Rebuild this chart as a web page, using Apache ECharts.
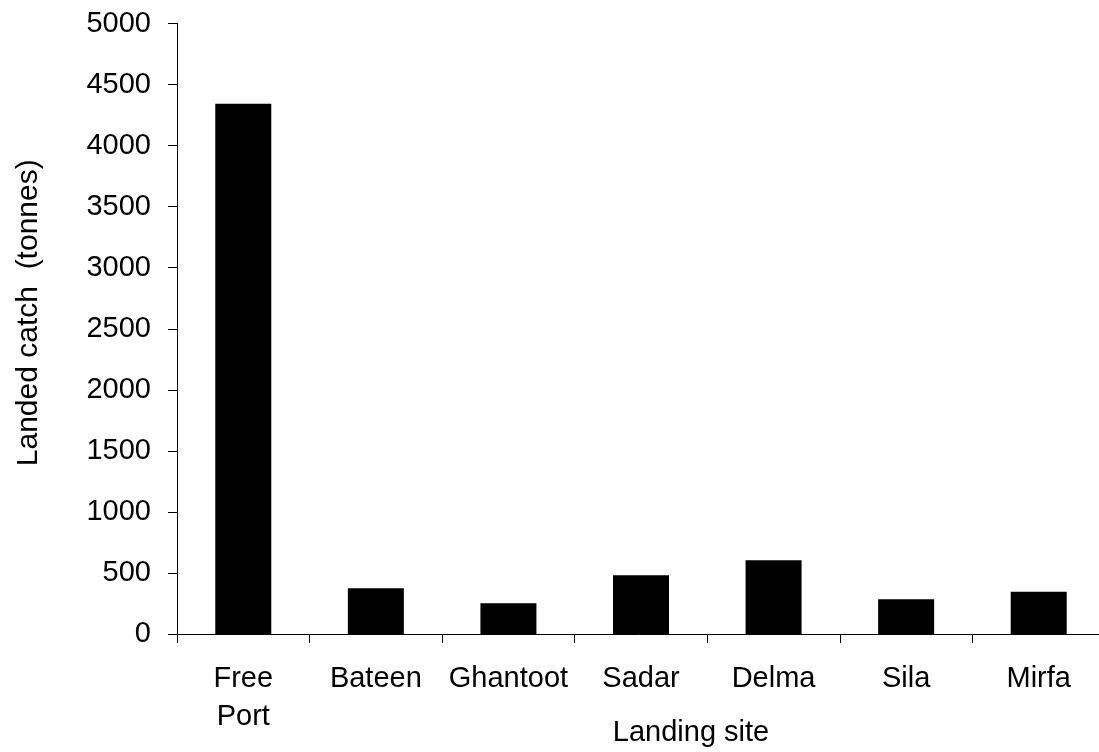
<!DOCTYPE html>
<html>
<head>
<meta charset="utf-8">
<script src="https://cdn.jsdelivr.net/npm/echarts@6/dist/echarts.min.js"></script>
<style>
html,body{margin:0;padding:0;background:#fff;}
#chart{width:1099px;height:752px;}
</style>
</head>
<body>
<div id="chart"></div>
<script>
const categories = ["Free\nPort", "Bateen", "Ghantoot", "Sadar", "Delma", "Sila", "Mirfa"];
const catchValues = [4343, 374, 251, 481, 603, 284, 347];
const yAxisName = "Landed catch  (tonnes)";
const xAxisName = "Landing site";

const chart = echarts.init(document.getElementById('chart'), null, {renderer: 'canvas'});
const font = "'Liberation Sans', Arial, sans-serif";
chart.setOption({
  backgroundColor: '#ffffff',
  animation: false,
  grid: {left: 177, right: -6, top: 23.5, bottom: 118, containLabel: false, outerBoundsMode: 'none'},
  xAxis: {
    type: 'category',
    data: categories,
    boundaryGap: true,
    name: xAxisName,
    nameLocation: 'middle',
    nameGap: 84,
    nameMoveOverlap: false,
    nameTextStyle: {fontFamily: font, fontSize: 29, color: '#000', padding: [0, 0, 0, 100]},
    axisLine: {show: true, lineStyle: {color: '#000', width: 1}},
    axisTick: {show: true, inside: false, length: 9, alignWithLabel: false, lineStyle: {color: '#000'}},
    axisLabel: {fontFamily: font, fontSize: 29, color: '#000', margin: 26, lineHeight: 38, interval: 0},
    splitLine: {show: false}
  },
  yAxis: {
    type: 'value',
    min: 0, max: 5000, interval: 500,
    name: yAxisName,
    nameLocation: 'middle',
    nameGap: 133,
    nameRotate: 90,
    nameMoveOverlap: false,
    nameTextStyle: {fontFamily: font, fontSize: 30, color: '#000', padding: [0, 0, 0, 32]},
    axisLine: {show: true, lineStyle: {color: '#000', width: 1}},
    axisTick: {show: true, inside: false, length: 9, lineStyle: {color: '#000'}},
    axisLabel: {fontFamily: font, fontSize: 29, color: '#000', margin: 26, formatter: v => String(v)},
    splitLine: {show: false}
  },
  series: [{
    type: 'bar',
    data: catchValues,
    barWidth: 56,
    itemStyle: {color: '#000'}
  }]
});
</script>
</body>
</html>
